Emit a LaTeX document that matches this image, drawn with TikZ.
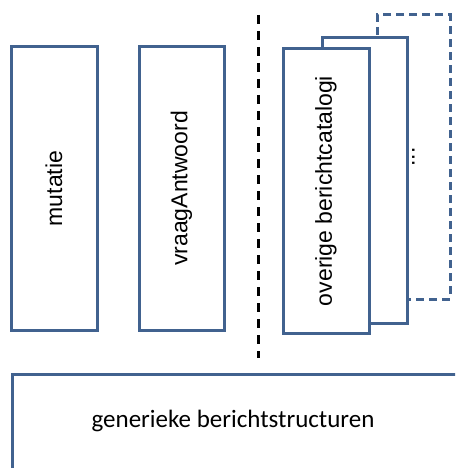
\documentclass[tikz,border=0pt]{standalone}
\usepackage{fontspec}
\setmainfont{Liberation Sans}
\newfontfamily\calfont{Carlito}
\definecolor{boxblue}{HTML}{41628F}
\begin{document}
\begin{tikzpicture}[x=1pt,y=-1pt,
  catbox/.style={draw=boxblue,line width=3pt,fill=white,rectangle,inner sep=0pt},
  vlabel/.style={rotate=90,font=\fontsize{23}{27}\selectfont}]
\useasboundingbox (0,0) rectangle (455,468);
\clip (0,0) rectangle (455,468);
% left boxes
\node[catbox,minimum width=86pt,minimum height=283pt] (mut) at (54,188.5) {};
\node[vlabel] (mutlbl) at (mut.center) {mutatie};
\node[catbox,minimum width=85pt,minimum height=283pt] (vraag) at (181.5,188.5) {};
\node[vlabel] (vraaglbl) at (vraag.center) {vraagAntwoord};
% divider
\coordinate (dtop) at (258,15);
\coordinate (dbot) at (258,358);
\draw[line width=3pt,dash pattern=on 9pt off 7pt] (dtop) -- (dbot);
% stacked catalog boxes
\node[catbox,dashed,dash pattern=on 8pt off 5pt,minimum width=73pt,minimum height=284pt] (back) at (413.5,157) {};
\node[vlabel] (dots) at (back.center) {...};
\node[catbox,minimum width=85pt,minimum height=285pt] (mid) at (364.5,180.5) {};
\node[catbox,minimum width=86pt,minimum height=284pt] (front) at (326,191) {};
\node[vlabel] (frontlbl) at (front.center) {overige berichtcatalogi};
% bottom box
\node[catbox,minimum width=470pt,minimum height=140pt,anchor=north west] (gen) at (11,373) {};
\node[font=\calfont\fontsize{25}{30}\selectfont] (genlbl) at (233,421) {generieke berichtstructuren};
\end{tikzpicture}
\end{document}
